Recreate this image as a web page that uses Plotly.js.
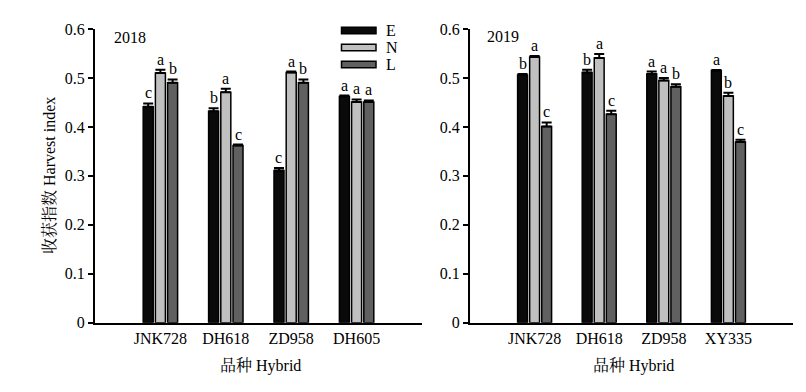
<!DOCTYPE html>
<html>
<head>
<meta charset="utf-8">
<script src="https://cdn.plot.ly/plotly-3.0.1.min.js"></script>
<style>html,body{margin:0;padding:0;background:#fff}</style>
</head>
<body>
<div id="chart" style="width:806px;height:392px"></div>
<script>
// ---- data ----
const hybrids2018 = ["JNK728", "DH618", "ZD958", "DH605"];
const hybrids2019 = ["JNK728", "DH618", "ZD958", "XY335"];
const seriesNames = ["E", "N", "L"];

const e2018 = [0.441, 0.432, 0.311, 0.462];
const n2018 = [0.510, 0.471, 0.511, 0.451];
const l2018 = [0.490, 0.362, 0.490, 0.451];
const eErr2018 = [0.007, 0.006, 0.005, 0.002];
const nErr2018 = [0.007, 0.007, 0.002, 0.005];
const lErr2018 = [0.007, 0.002, 0.007, 0.003];
const eSig2018 = ["c", "b", "c", "a"];
const nSig2018 = ["a", "a", "a", "a"];
const lSig2018 = ["b", "c", "b", "a"];

const e2019 = [0.506, 0.511, 0.508, 0.515];
const n2019 = [0.543, 0.541, 0.495, 0.463];
const l2019 = [0.401, 0.426, 0.482, 0.369];
const eErr2019 = [0.002, 0.006, 0.005, 0.001];
const nErr2019 = [0.002, 0.008, 0.005, 0.007];
const lErr2019 = [0.008, 0.007, 0.005, 0.005];
const eSig2019 = ["b", "b", "a", "a"];
const nSig2019 = ["a", "a", "a", "b"];
const lSig2019 = ["c", "c", "b", "c"];

const yearLabels = ["2018", "2019"];
const yTitle = "收获指数 Harvest index";
const xTitle = "品种 Hybrid";

// ---- styling ----
const W = 806, H = 392;
const FONT = "Liberation Serif, Noto Serif CJK SC, Noto Sans CJK SC, serif";
const colors = ["#0a0a0a", "#c0c0c0", "#606060"];
const BARGAP = 0.44;
const slot = (1 - BARGAP) / 3;
const px = x => x / W;
const py = y => 1 - y / H;

function bars(cats, vals, errs, idx, xa, ya) {
  return {
    type: "bar", x: cats, y: vals, name: seriesNames[idx],
    xaxis: xa, yaxis: ya, showlegend: false,
    marker: {color: colors[idx], line: {color: "#000", width: 1.5}},
    error_y: {type: "data", symmetric: false, array: errs,
              arrayminus: errs.map(() => 0), color: "#000", thickness: 2, width: 5},
    hoverinfo: "skip"
  };
}

const traces = [
  bars(hybrids2018, e2018, eErr2018, 0, "x", "y"),
  bars(hybrids2018, n2018, nErr2018, 1, "x", "y"),
  bars(hybrids2018, l2018, lErr2018, 2, "x", "y"),
  bars(hybrids2019, e2019, eErr2019, 0, "x2", "y2"),
  bars(hybrids2019, n2019, nErr2019, 1, "x2", "y2"),
  bars(hybrids2019, l2019, lErr2019, 2, "x2", "y2")
];

const annotations = [];
function letters(vals, errs, sigs, idx, xa, ya) {
  const off = (idx - 1) * slot;
  vals.forEach((v, i) => {
    annotations.push({
      xref: xa, yref: ya, x: i + off, y: v + errs[i],
      text: sigs[i], showarrow: false, yanchor: "bottom", yshift: 0,
      font: {family: FONT, size: 16, color: "#000"}
    });
  });
}
letters(e2018, eErr2018, eSig2018, 0, "x", "y");
letters(n2018, nErr2018, nSig2018, 1, "x", "y");
letters(l2018, lErr2018, lSig2018, 2, "x", "y");
letters(e2019, eErr2019, eSig2019, 0, "x2", "y2");
letters(n2019, nErr2019, nSig2019, 1, "x2", "y2");
letters(l2019, lErr2019, lSig2019, 2, "x2", "y2");

// year labels
annotations.push({xref: "paper", yref: "paper", x: px(112), y: py(38), xanchor: "left", yanchor: "middle",
  text: yearLabels[0], showarrow: false, font: {family: FONT, size: 16, color: "#000"}});
annotations.push({xref: "paper", yref: "paper", x: px(485), y: py(36), xanchor: "left", yanchor: "middle",
  text: yearLabels[1], showarrow: false, font: {family: FONT, size: 16, color: "#000"}});
// axis titles
annotations.push({xref: "paper", yref: "paper", x: px(49), y: py(176), textangle: -90,
  xanchor: "center", yanchor: "middle", text: yTitle, showarrow: false,
  font: {family: FONT, size: 16, color: "#000"}});
annotations.push({xref: "paper", yref: "paper", x: px(260), y: py(366), xanchor: "center", yanchor: "middle",
  text: xTitle, showarrow: false, font: {family: FONT, size: 16, color: "#000"}});
annotations.push({xref: "paper", yref: "paper", x: px(633), y: py(366), xanchor: "center", yanchor: "middle",
  text: xTitle, showarrow: false, font: {family: FONT, size: 16, color: "#000"}});

// legend (wide rectangles)
const shapes = [];
const legY = [30.5, 47.5, 64.5];
seriesNames.forEach((nm, i) => {
  shapes.push({type: "rect", xref: "paper", yref: "paper",
    x0: px(341.5), x1: px(376), y0: py(legY[i] - 3.3), y1: py(legY[i] + 3.3),
    fillcolor: colors[i], line: {color: "#000", width: 1.5}});
  annotations.push({xref: "paper", yref: "paper", x: px(384), y: py(legY[i]), xanchor: "left", yanchor: "middle",
    text: nm, showarrow: false, font: {family: FONT, size: 16, color: "#000"}});
});

const yDomain = [1 - 322.7 / H, 1 - 29 / H];
const yAxisCommon = {
  range: [0, 0.6], domain: yDomain, dtick: 0.1, tick0: 0,
  showline: true, linecolor: "#000", linewidth: 2,
  ticks: "outside", ticklen: 5, tickwidth: 2, tickcolor: "#000",
  showgrid: false, zeroline: false,
  tickfont: {family: FONT, size: 16, color: "#000"}
};
const xAxisCommon = {
  type: "category", range: [-1, 4],
  showline: true, linecolor: "#000", linewidth: 2,
  ticks: "", showgrid: false, zeroline: false,
  tickfont: {family: FONT, size: 16, color: "#000"}
};

const layout = {
  width: W, height: H,
  margin: {l: 0, r: 0, t: 0, b: 0},
  paper_bgcolor: "#fff", plot_bgcolor: "rgba(0,0,0,0)",
  font: {family: FONT, size: 16, color: "#000"},
  barmode: "group", bargap: BARGAP, bargroupgap: 0.18,
  showlegend: false,
  xaxis: Object.assign({}, xAxisCommon, {domain: [95 / W, 422 / W], anchor: "y"}),
  yaxis: Object.assign({}, yAxisCommon, {anchor: "x"}),
  xaxis2: Object.assign({}, xAxisCommon, {domain: [470 / W, 793 / W], anchor: "y2"}),
  yaxis2: Object.assign({}, yAxisCommon, {anchor: "x2"}),
  annotations: annotations,
  shapes: shapes
};

Plotly.newPlot("chart", traces, layout, {staticPlot: true, displayModeBar: false});
</script>
</body>
</html>
